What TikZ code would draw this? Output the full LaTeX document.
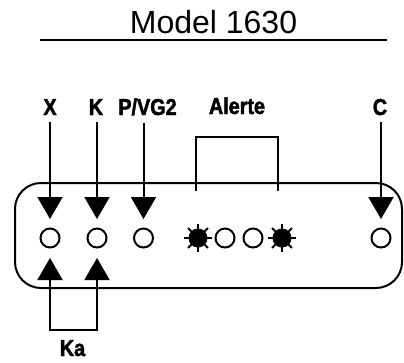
\documentclass[tikz,border=0pt]{standalone}
\usepackage{fontspec}
\setmainfont{Liberation Sans}
\newfontfamily\labfont{Liberation Sans}[BoldFeatures={FakeStretch=0.86,FakeBold=2}]
\usetikzlibrary{arrows.meta}
\begin{document}
\begin{tikzpicture}[x=1pt,y=-1pt,
  lw/.style={line width=2pt},
  port/.style={circle,draw,lw,minimum size=19pt,inner sep=0pt},
  led/.style={circle,fill,minimum size=19pt,inner sep=0pt},
  lbl/.style={anchor=base,inner sep=0pt,font=\fontsize{23}{23}\labfont\bfseries},
  tri/.tip={Triangle[width=25pt,length=22pt]},
  arr/.style={lw,-tri,shorten >=8.5pt},
]
\useasboundingbox (0,0) rectangle (404,362);
% title
\node[anchor=base,inner sep=0pt,font=\fontsize{32}{32}\selectfont] (title) at (213.5,33) {Model 1630};
\coordinate (u1) at (40,40);
\coordinate (u2) at (387,40);
\draw[lw] (u1) -- (u2);
% box
\draw[lw,rounded corners=26pt] (15,183) rectangle (402,288);
% labels
\node[lbl] (X) at (50,115) {X};
\node[lbl] (K) at (96,115) {K};
\node[lbl] (PV) at (147.5,115) {P/VG2};
\node[lbl] (AL) at (237,114) {Alerte};
\node[lbl] (C) at (380,115) {C};
\node[lbl] (KA) at (72.5,356) {Ka};
% ports
\node[port] (p1) at (50,238) {};
\node[port] (p2) at (97,238) {};
\node[port] (p3) at (143.5,238) {};
\node[port] (pc) at (381,238) {};
% leds
\node[led] (s1) at (198,238) {};
\node[port] (a1) at (225,238) {};
\node[port] (a2) at (253,238) {};
\node[led] (s2) at (282,238) {};
\foreach \s in {s1,s2}{
  \foreach \a in {0,45,...,315}{
    \draw[lw] (\s) ++(\a:8) -- ++(\a:6);
  }
}
% arrows
\draw[arr] ([yshift=-7pt]X.south -| p1) -- (p1.north);
\draw[arr] ([yshift=-7pt]K.south -| p2) -- (p2.north);
\draw[arr] ([yshift=-7pt]PV.south -| p3) -- (p3.north);
\draw[arr] ([yshift=-7pt]C.south -| pc) -- (pc.north);
% Ka bracket
\coordinate (kb) at (72.5,330);
\draw[lw,tri-tri,shorten <=9.5pt,shorten >=9.5pt] (p1.south) |- (kb) -| (p2.south);
% Alerte bracket
\coordinate (al) at (196,191);
\coordinate (ar) at (278,191);
\draw[lw] (al) |- ([yshift=-23pt]AL.south) -| (ar);
\end{tikzpicture}
\end{document}
